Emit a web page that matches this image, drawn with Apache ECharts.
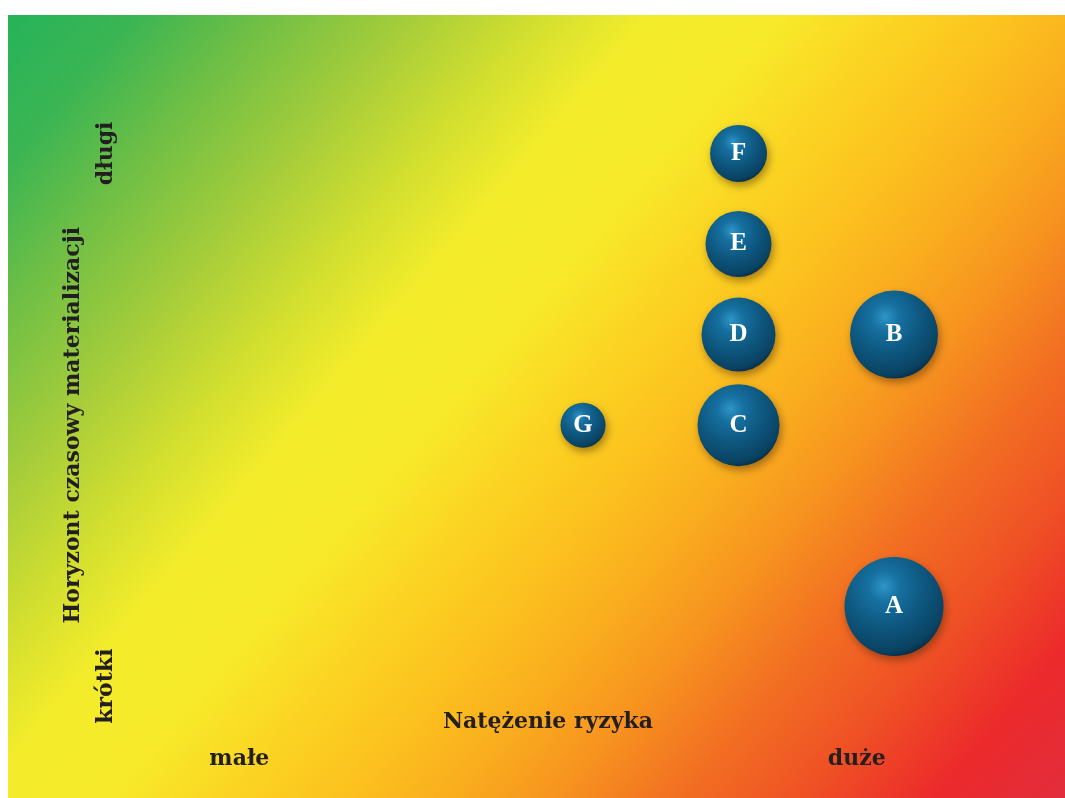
<!DOCTYPE html>
<html>
<head>
<meta charset="utf-8">
<script src="https://cdn.jsdelivr.net/npm/echarts@6/dist/echarts.min.js"></script>
<style>
html,body{margin:0;padding:0;background:#fff;}
#chart{width:1065px;height:798px;}
</style>
</head>
<body>
<div id="chart"></div>
<script>
// ---- data ----
const categories = ['A', 'B', 'C', 'D', 'E', 'F', 'G'];
const riskIntensity = [5, 5, 4, 4, 4, 4, 3];      // x: Natężenie ryzyka
const timeHorizon = [1, 4, 3, 4, 5, 6, 3];        // y: Horyzont czasowy materializacji
const bubbleWeight = [9.9, 8.8, 8.2, 7.4, 6.6, 5.7, 4.5];
const xTickValues = [0.79, 4.76];
const xTickLabels = ['małe', 'duże'];
const yTickValues = [0.12, 6];
const yTickLabels = ['krótki', 'długi'];
const xAxisTitle = 'Natężenie ryzyka';
const yAxisTitle = 'Horyzont czasowy materializacji';

const FONT = '"DejaVu Serif", "Liberation Serif", serif';
const LFONT = '"Liberation Serif", "DejaVu Serif", serif';
const TEXT = '#231f20';
const FS = 22;

function pick(values, labels) {
  return function (v) {
    let best = 0, d = Infinity;
    values.forEach((t, i) => { const dd = Math.abs(t - v); if (dd < d) { d = dd; best = i; } });
    return d < 1e-6 ? labels[best] : '';
  };
}

const seriesData = categories.map((c, i) => ({
  name: c,
  value: [riskIntensity[i], timeHorizon[i], bubbleWeight[i]]
}));

const chart = echarts.init(document.getElementById('chart'), null, {renderer: 'canvas'});
chart.setOption({
  animation: false,
  backgroundColor: '#ffffff',
  graphic: [{
    type: 'rect',
    left: 8, top: 15, z: -10, silent: true,
    shape: {width: 1057, height: 783},
    style: {
      fill: new echarts.graphic.LinearGradient(0, 0, 1, 1.16, [
        {offset: 0.00, color: '#26b35a'},
        {offset: 0.07, color: '#3bb553'},
        {offset: 0.14, color: '#70bf45'},
        {offset: 0.22, color: '#a6cd3a'},
        {offset: 0.29, color: '#d2df2f'},
        {offset: 0.35, color: '#f3ec2b'},
        {offset: 0.42, color: '#f7ea2a'},
        {offset: 0.48, color: '#fbd623'},
        {offset: 0.54, color: '#fcc41f'},
        {offset: 0.60, color: '#fab01e'},
        {offset: 0.66, color: '#f7951f'},
        {offset: 0.73, color: '#f26f22'},
        {offset: 0.80, color: '#ef5025'},
        {offset: 0.87, color: '#ec2a2b'},
        {offset: 0.94, color: '#e22d3c'},
        {offset: 1.00, color: '#d63350'}
      ])
    }
  }],
  grid: {left: 38.75, right: 7.7, top: 108.1, bottom: 55.7, containLabel: false, outerBoundsMode: 'none'},
  xAxis: {
    type: 'value', min: -0.5, max: 6.05,
    axisLine: {show: false}, axisTick: {show: false}, splitLine: {show: false},
    axisLabel: {
      customValues: xTickValues,
      formatter: pick(xTickValues, xTickLabels),
      margin: 6, hideOverlap: false,
      color: TEXT, fontFamily: FONT, fontWeight: 'bold', fontSize: FS
    },
    name: xAxisTitle, nameLocation: 'middle', nameGap: -31, nameMoveOverlap: false,
    nameTextStyle: {color: TEXT, fontFamily: FONT, fontWeight: 'bold', fontSize: FS}
  },
  yAxis: {
    type: 'value', min: -0.5, max: 6.5,
    axisLine: {show: false}, axisTick: {show: false}, splitLine: {show: false},
    axisLabel: {
      customValues: yTickValues,
      formatter: pick(yTickValues, yTickLabels),
      inside: true, rotate: 90, margin: 57, hideOverlap: false,
      color: TEXT, fontFamily: FONT, fontWeight: 'bold', fontSize: FS
    },
    name: yAxisTitle, nameLocation: 'middle', nameRotate: 90, nameGap: -46, nameMoveOverlap: false,
    nameTextStyle: {color: TEXT, fontFamily: FONT, fontWeight: 'bold', fontSize: FS}
  },
  series: [{
    type: 'scatter',
    clip: false,
    data: seriesData,
    symbolSize: function (v) { return v[2] * 10; },
    itemStyle: {
      color: {
        type: 'radial', x: 0.4, y: 0.3, r: 0.8,
        colorStops: [
          {offset: 0, color: '#2f95c8'},
          {offset: 0.2, color: '#1670a0'},
          {offset: 0.5, color: '#0e5880'},
          {offset: 0.82, color: '#0a4262'},
          {offset: 1, color: '#03192a'}
        ]
      },
      shadowBlur: 8,
      shadowColor: 'rgba(60,30,0,0.45)',
      shadowOffsetX: 2,
      shadowOffsetY: 4,
      opacity: 1
    },
    label: {
      show: true, position: 'inside',
      formatter: '{b}',
      color: '#ffffff', fontFamily: LFONT, fontWeight: 'bold', fontSize: 25
    }
  }]
});
</script>
</body>
</html>
